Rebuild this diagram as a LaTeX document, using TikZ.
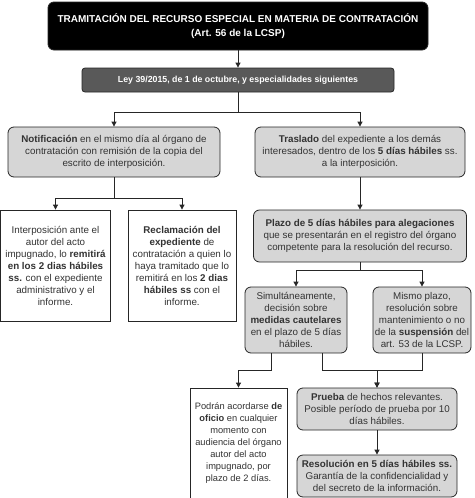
\documentclass[tikz,border=0pt]{standalone}
\usepackage{fontspec}
\setmainfont{Liberation Sans}
\usetikzlibrary{arrows.meta}
\definecolor{boxgray}{HTML}{D6D6D6}
\definecolor{leygray}{HTML}{595959}
\definecolor{txtgray}{HTML}{333333}
\begin{document}
\begin{tikzpicture}[x=1pt, y=-1pt,
    base/.style={draw=black!85, line width=0.8pt, align=center, inner sep=0pt, text=txtgray, font=\fontsize{9.8}{12}\selectfont},
    graybox/.style={base, fill=boxgray, rounded corners=6pt},
    whitebox/.style={base, fill=white},
    arr/.style={-{Triangle[length=5pt,width=5pt]}, line width=0.8pt, draw=black!85}]
    \useasboundingbox (0,0) rectangle (474,498);

    \node (titulo) at (238,26) [base, fill=black, text=white, rounded corners=6pt, minimum width=380, minimum height=48, font=\bfseries\fontsize{10}{14}\selectfont] {TRAMITACIÓN DEL RECURSO ESPECIAL EN MATERIA DE CONTRATACIÓN\\(Art. 56 de la LCSP)};
    \node (ley) at (238,80) [base, fill=leygray, text=white, rounded corners=3pt, minimum width=312, minimum height=24, font=\bfseries\fontsize{8.8}{10}\selectfont] {Ley 39/2015, de 1 de octubre, y especialidades siguientes};

    \node (notif) at (114,152) [graybox, minimum width=212, minimum height=50] {\textbf{Notificación} en el mismo día al órgano de\\contratación con remisión de la copia del\\escrito de interposición.};
    \node (trasl) at (360,152) [graybox, minimum width=210, minimum height=50] {\textbf{Traslado} del expediente a los demás\\interesados, dentro de los \textbf{5 días hábiles} ss.\\a la interposición.};

    \node (interp) at (55.5,265.5) [whitebox, minimum width=110, minimum height=111] {Interposición ante el\\autor del acto\\impugnado, lo \textbf{remitirá}\\\textbf{en los 2 dias hábiles}\\\textbf{ss.} con el expediente\\administrativo y el\\informe.};
    \node (recl) at (182,265.5) [whitebox, minimum width=108, minimum height=111] {\textbf{Reclamación del}\\\textbf{expediente} de\\contratación a quien lo\\haya tramitado que lo\\remitirá en los \textbf{2 dias}\\\textbf{hábiles ss} con el\\informe.};
    \node (plazo) at (360,236) [graybox, minimum width=213, minimum height=52] {\textbf{Plazo de 5 días hábiles para alegaciones}\\que se presentarán en el registro del órgano\\competente para la resolución del recurso.};

    \node (simul) at (296,320) [graybox, minimum width=102, minimum height=66] {Simultáneamente,\\decisión sobre\\\textbf{medidas cautelares}\\en el plazo de 5 días\\hábiles.};
    \node (mismo) at (422,320) [graybox, minimum width=98, minimum height=66] {Mismo plazo,\\resolución sobre\\mantenimiento o no\\de la \textbf{suspensión} del\\art. 53 de la LCSP.};

    \node (podran) at (238.5,443) [whitebox, minimum width=97, minimum height=110, font=\fontsize{9.3}{12}\selectfont] {Podrán acordarse \textbf{de}\\\textbf{oficio} en cualquier\\momento con\\audiencia del órgano\\autor del acto\\impugnado, por\\plazo de 2 días.};
    \node (prueba) at (377,409) [graybox, minimum width=160, minimum height=42] {\textbf{Prueba} de hechos relevantes.\\Posible período de prueba por 10\\días hábiles.};
    \node (resol) at (377,476) [graybox, minimum width=160, minimum height=42] {\textbf{Resolución en 5 días hábiles ss.}\\Garantía de la confidencialidad y\\del secreto de la información.};

    \draw[arr] (titulo) -- (ley);
    \draw[arr] (ley.south) -- ++(0,20) -| (notif.north);
    \draw[arr] (ley.south) -- ++(0,20) -| (trasl.north);

    \draw[arr] (notif.south) -- ++(0,21) -| (interp.north);
    \draw[arr] (notif.south) -- ++(0,21) -| (recl.north);

    \draw[arr] (trasl) -- (plazo);
    \draw[arr] (plazo.south) -- ++(0,8) -| (simul.north);
    \draw[arr] (plazo.south) -- ++(0,8) -| (mismo.north);

    \draw[arr] ([xshift=-25pt]simul.south) -- ++(0,17) -| (podran.north);
    \draw[arr] ([xshift=26pt]simul.south) -- ++(0,17) -| (prueba.north);
    \draw[arr] (mismo.south) -- ++(0,17) -| (prueba.north);

    \draw[arr] (prueba) -- (resol);
\end{tikzpicture}
\end{document}
